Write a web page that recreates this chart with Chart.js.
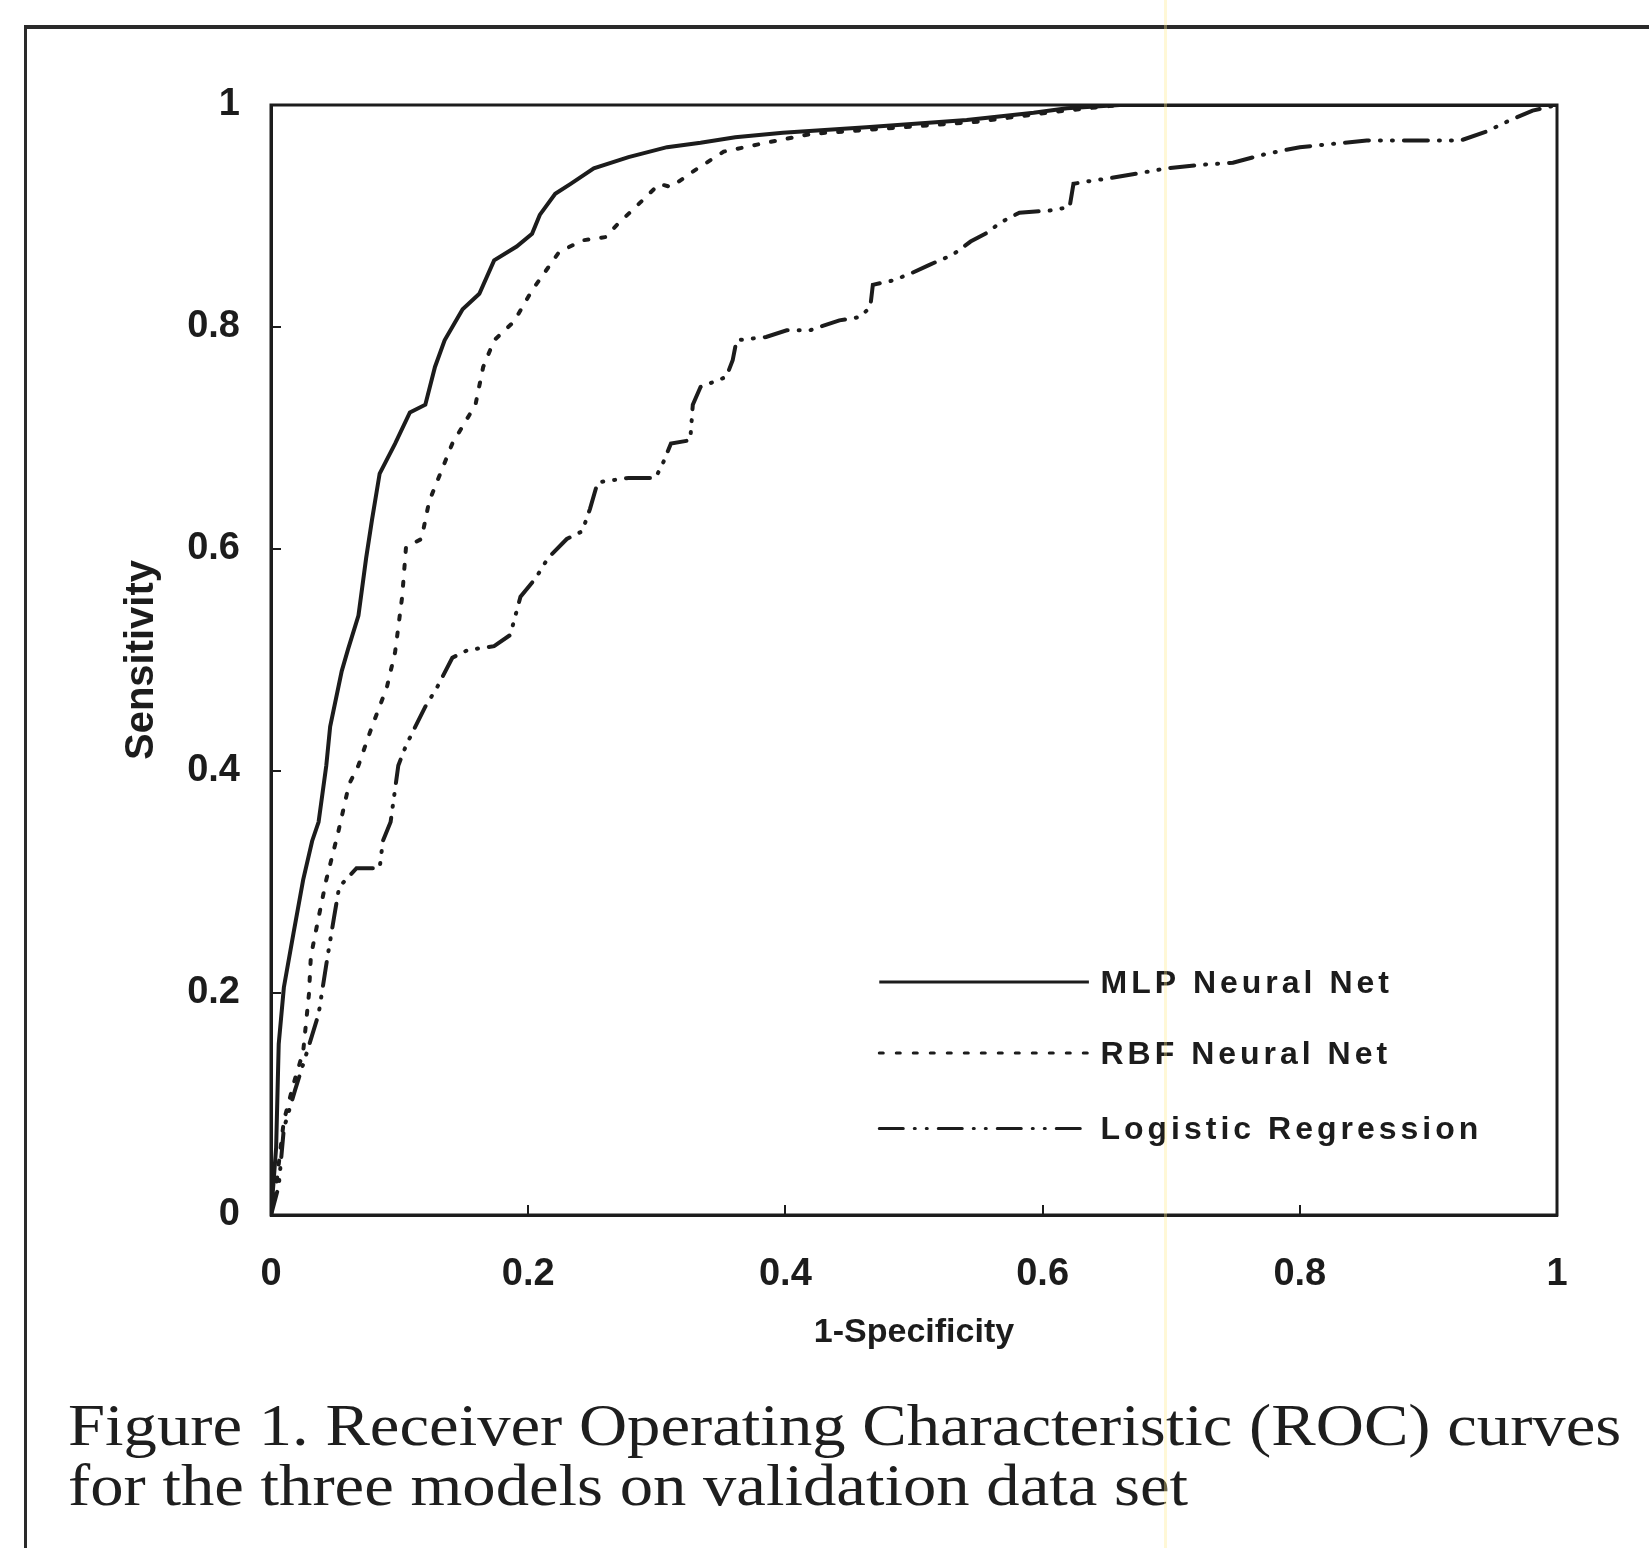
<!DOCTYPE html>
<html>
<head>
<meta charset="utf-8">
<script src="https://cdn.jsdelivr.net/npm/chart.js@4.4.1/dist/chart.umd.min.js"></script>
<style>
  html, body { margin: 0; padding: 0; background: #fff; }
  body { width: 1649px; height: 1548px; position: relative; overflow: hidden; }
  #rocChart { position: absolute; left: 0; top: 0; }
  .frame { position: absolute; left: 24px; top: 25px; width: 1700px; height: 1600px;
    border-top: 4px solid #2a2a2a; border-left: 3px solid #2a2a2a; }
  .caption { position: absolute; left: 68px; top: 1395px; font-family: "Liberation Serif", "Times New Roman", serif;
    font-size: 59px; line-height: 60px; color: #1e1e1e; white-space: nowrap;
    transform: scaleX(1.13); transform-origin: left top; }
  .stripe { position: absolute; left: 1164px; top: 0; width: 3px; height: 1548px;
    background: rgba(255, 236, 140, 0.35); pointer-events: none; }
</style>
</head>
<body>
<div class="frame"></div>
<canvas id="rocChart" width="1649" height="1548"></canvas>
<div class="caption">Figure 1. Receiver Operating Characteristic (ROC) curves<br>for the three models on validation data set</div>
<div class="stripe"></div>
<script>
// series names
const seriesNames = ["MLP Neural Net", "RBF Neural Net", "Logistic Regression"];

// MLP neural net ROC (1-specificity, sensitivity)
const mlpX = [0, 0.002, 0.004, 0.006, 0.010, 0.0175, 0.025, 0.032, 0.037, 0.043, 0.046, 0.055, 0.06, 0.068,
  0.074, 0.0785, 0.0845, 0.0965, 0.108, 0.120, 0.1275, 0.135, 0.149, 0.162, 0.1735, 0.191, 0.203, 0.209,
  0.221, 0.233, 0.251, 0.278, 0.308, 0.334, 0.361, 0.398, 0.463, 0.541, 0.593, 0.619, 0.66, 1];
const mlpY = [0, 0.03, 0.061, 0.154, 0.205, 0.254, 0.302, 0.337, 0.354, 0.405, 0.44, 0.49, 0.51, 0.54,
  0.592, 0.626, 0.668, 0.695, 0.723, 0.73, 0.764, 0.788, 0.816, 0.83, 0.86, 0.8725, 0.884, 0.901,
  0.92, 0.929, 0.943, 0.953, 0.962, 0.966, 0.971, 0.975, 0.98, 0.9865, 0.993, 0.997, 1, 1];

// RBF neural net ROC
const rbfX = [0, 0.004, 0.010, 0.018, 0.025, 0.0295, 0.031, 0.037, 0.043, 0.052, 0.0607, 0.068, 0.0785,
  0.090, 0.0965, 0.102, 0.105, 0.117, 0.123, 0.141, 0.159, 0.165, 0.1735, 0.189, 0.203, 0.224, 0.242,
  0.26, 0.269, 0.287, 0.302, 0.311, 0.328, 0.352, 0.385, 0.42, 0.48, 0.55, 0.61, 0.66, 1];
const rbfY = [0, 0.026, 0.085, 0.12, 0.147, 0.199, 0.233, 0.268, 0.302, 0.3435, 0.388, 0.405, 0.44,
  0.475, 0.507, 0.557, 0.602, 0.609, 0.643, 0.695, 0.73, 0.764, 0.788, 0.805, 0.833, 0.8675, 0.878,
  0.881, 0.892, 0.912, 0.929, 0.926, 0.94, 0.958, 0.966, 0.974, 0.979, 0.985, 0.994, 1, 1];

// logistic regression ROC
const logX = [0, 0.006, 0.010, 0.0187, 0.028, 0.037, 0.044, 0.049, 0.053, 0.0665, 0.0845, 0.087, 0.093,
  0.099, 0.105, 0.120, 0.129, 0.141, 0.153, 0.1735, 0.186, 0.194, 0.206, 0.2155, 0.230, 0.242, 0.248,
  0.254, 0.278, 0.299, 0.305, 0.311, 0.326, 0.328, 0.334, 0.354, 0.359, 0.362, 0.385, 0.401, 0.419,
  0.442, 0.458, 0.466, 0.468, 0.484, 0.499, 0.512, 0.530, 0.544, 0.557, 0.567, 0.582, 0.606, 0.621,
  0.624, 0.634, 0.652, 0.697, 0.722, 0.748, 0.774, 0.800, 0.826, 0.852, 0.925, 0.945, 0.963, 0.981, 1];
const logY = [0, 0.026, 0.078, 0.1125, 0.147, 0.181, 0.233, 0.268, 0.2955, 0.3125, 0.3125, 0.337, 0.354,
  0.405, 0.423, 0.458, 0.475, 0.502, 0.509, 0.5125, 0.5225, 0.557, 0.574, 0.592, 0.609, 0.616, 0.636,
  0.66, 0.664, 0.664, 0.678, 0.695, 0.698, 0.73, 0.746, 0.755, 0.77, 0.788, 0.791, 0.797, 0.797,
  0.806, 0.809, 0.818, 0.838, 0.842, 0.849, 0.856, 0.865, 0.877, 0.885, 0.894, 0.903, 0.905, 0.908,
  0.929, 0.931, 0.934, 0.943, 0.946, 0.948, 0.956, 0.962, 0.965, 0.968, 0.968, 0.976, 0.986, 0.995, 1];

// axis ticks and their labels
const tickValues = [0, 0.2, 0.4, 0.6, 0.8, 1];
const tickLabels = ["0", "0.2", "0.4", "0.6", "0.8", "1"];

// legend rows sit inside the plot (in data units)
const legendRows = [0.21, 0.146, 0.078];

const ink = "#1c1c1c";
const tickFont = { family: '"Liberation Sans", Arial, sans-serif', size: 38, weight: "bold" };

function toPoints(xs, ys) {
	return xs.map((x, i) => ({ x: x, y: ys[i] }));
}

function tickText(value) {
	const i = tickValues.findIndex((v) => Math.abs(v - value) < 1e-6);
	return i >= 0 ? tickLabels[i] : "";
}

// draws the box round the plot area
const framePlugin = {
	id: "plotFrame",
	afterDatasetsDraw(chart) {
		const { ctx, chartArea: a } = chart;
		ctx.save();
		ctx.strokeStyle = ink;
		ctx.lineWidth = 3;
		ctx.strokeRect(a.left, a.top, a.right - a.left, a.bottom - a.top);
		ctx.restore();
	},
};

// legend drawn inside the plot, bottom right
const legendPlugin = {
	id: "insideLegend",
	afterDraw(chart) {
		const { ctx } = chart;
		const xs = chart.scales.x;
		const ys = chart.scales.y;
		ctx.save();
		ctx.font = 'bold 32px "Liberation Sans", Arial, sans-serif';
		ctx.letterSpacing = "4px";
		ctx.textBaseline = "middle";
		ctx.fillStyle = ink;
		chart.data.datasets.forEach((ds, i) => {
			const py = ys.getPixelForValue(legendRows[i]);
			ctx.beginPath();
			ctx.setLineDash(ds.borderDash || []);
			ctx.lineCap = ds.borderCapStyle || "butt";
			ctx.lineWidth = 3;
			ctx.strokeStyle = ds.borderColor;
			ctx.moveTo(xs.getPixelForValue(0.473), py);
			ctx.lineTo(xs.getPixelForValue(0.636), py);
			ctx.stroke();
			ctx.setLineDash([]);
			ctx.fillText(ds.label, xs.getPixelForValue(0.645), py + 2);
		});
		ctx.restore();
	},
};

const ctx = document.getElementById("rocChart").getContext("2d");
new Chart(ctx, {
	type: "scatter",
	data: {
		datasets: [
			{
				label: seriesNames[0],
				data: toPoints(mlpX, mlpY),
				borderColor: ink,
				borderWidth: 4,
			},
			{
				label: seriesNames[1],
				data: toPoints(rbfX, rbfY),
				borderColor: ink,
				borderWidth: 4,
				borderDash: [4, 13],
				borderCapStyle: "round",
			},
			{
				label: seriesNames[2],
				data: toPoints(logX, logY),
				borderColor: ink,
				borderWidth: 4,
				borderDash: [24, 11, 1, 11, 1, 11],
				borderCapStyle: "round",
			},
		],
	},
	options: {
		responsive: false,
		animation: false,
		devicePixelRatio: 1,
		showLine: true,
		elements: { point: { radius: 0, hoverRadius: 0 }, line: { tension: 0, fill: false } },
		layout: { padding: { left: 0, top: 105, right: 92, bottom: 195 } },
		plugins: { legend: { display: false }, tooltip: { enabled: false } },
		scales: {
			x: {
				type: "linear",
				min: 0,
				max: 1,
				afterBuildTicks: (scale) => { scale.ticks = tickValues.map((v) => ({ value: v })); },
				afterFit: (scale) => { scale.height = 138; },
				grid: { drawOnChartArea: false, drawTicks: true, tickLength: -10, color: ink, lineWidth: 2 },
				border: { display: true, color: ink, width: 3 },
				ticks: { color: ink, font: tickFont, padding: 47, maxRotation: 0, callback: tickText },
				title: {
					display: true,
					text: "1-Specificity",
					color: ink,
					font: { family: '"Liberation Sans", Arial, sans-serif', size: 34, weight: "bold" },
					padding: { top: 0, bottom: 0 },
				},
			},
			y: {
				type: "linear",
				min: 0,
				max: 1,
				afterBuildTicks: (scale) => { scale.ticks = tickValues.map((v) => ({ value: v })); },
				afterFit: (scale) => { scale.width = 271; },
				grid: { drawOnChartArea: false, drawTicks: true, tickLength: -10, color: ink, lineWidth: 2 },
				border: { display: true, color: ink, width: 3 },
				ticks: { color: ink, font: tickFont, padding: 41, callback: tickText },
				title: {
					display: true,
					text: "Sensitivity",
					color: ink,
					font: { family: '"Liberation Sans", Arial, sans-serif', size: 40, weight: "bold" },
					padding: { top: 118, bottom: 0 },
				},
			},
		},
	},
	plugins: [framePlugin, legendPlugin],
});
</script>
</body>
</html>
